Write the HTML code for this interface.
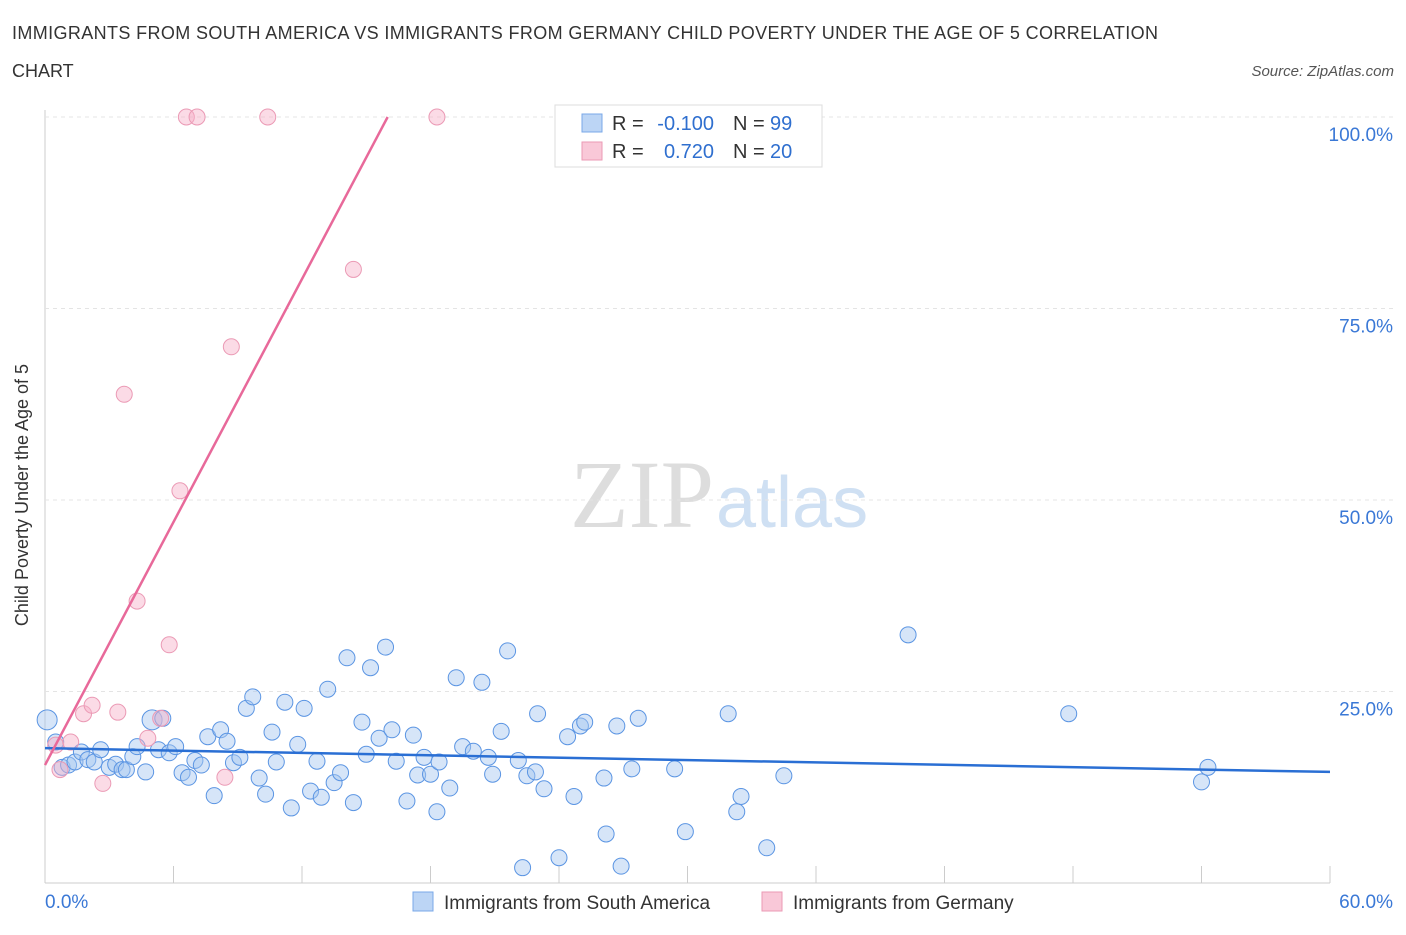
<!DOCTYPE html>
<html><head><meta charset="utf-8"><style>
body{margin:0;background:#fff;font-family:"Liberation Sans",sans-serif;}
</style></head><body>
<svg id="c" width="1406" height="930" xmlns="http://www.w3.org/2000/svg">
<text x="12" y="39" font-size="18" fill="#333" textLength="1146">IMMIGRANTS FROM SOUTH AMERICA VS IMMIGRANTS FROM GERMANY CHILD POVERTY UNDER THE AGE OF 5 CORRELATION</text>
<text x="12" y="77" font-size="18" fill="#333">CHART</text>
<text x="1394" y="76" font-size="15" fill="#555" font-style="italic" text-anchor="end">Source: ZipAtlas.com</text>
<text x="714" y="527" font-size="96" fill="#ddd" text-anchor="end" font-family="Liberation Serif,serif">ZIP</text>
<text x="716" y="527" font-size="72" fill="#cfe0f3">atlas</text>
<text x="28" y="495" font-size="18" fill="#333" text-anchor="middle" transform="rotate(-90 28 495)">Child Poverty Under the Age of 5</text>
<g id="grid"></g><g id="marks"></g>
<g>
<rect x="555" y="105" width="267" height="62" fill="#fff" stroke="#ddd"/>
<rect x="582" y="114" width="20" height="18" fill="#bcd5f5" stroke="#7aa8e8"/>
<text x="612" y="130" font-size="20" fill="#333">R =</text>
<text x="714" y="130" font-size="20" fill="#2f6fcf" text-anchor="end">-0.100</text>
<text x="733" y="130" font-size="20" fill="#333">N =</text>
<text x="770" y="130" font-size="20" fill="#2f6fcf">99</text>
<rect x="582" y="142" width="20" height="18" fill="#f9c8d8" stroke="#eb9ab5"/>
<text x="612" y="158" font-size="20" fill="#333">R =</text>
<text x="714" y="158" font-size="20" fill="#2f6fcf" text-anchor="end">0.720</text>
<text x="733" y="158" font-size="20" fill="#333">N =</text>
<text x="770" y="158" font-size="20" fill="#2f6fcf">20</text>
</g>
<g>
<rect x="413" y="892" width="20" height="19" fill="#bcd5f5" stroke="#7aa8e8"/>
<text x="444" y="909" font-size="19" fill="#333">Immigrants from South America</text>
<rect x="762" y="892" width="20" height="19" fill="#f9c8d8" stroke="#eb9ab5"/>
<text x="793" y="909" font-size="19" fill="#333">Immigrants from Germany</text>
</g>
</svg>
<script>
const xTicks=[0,6,12,18,24,30,36,42,48,54,60];
const yTicks=[25,50,75,100];
const blueX=[0.1,0.5,0.8,1.1,1.4,1.7,2.0,2.3,2.6,3.0,3.3,3.6,3.8,4.1,4.3,4.7,5.0,5.3,5.5,5.8,6.1,6.4,6.7,7.0,7.3,7.6,7.9,8.2,8.5,8.8,9.1,9.4,9.7,10.0,10.3,10.6,10.8,11.2,11.5,11.8,12.1,12.4,12.7,12.9,13.2,13.5,13.8,14.1,14.4,14.8,15.0,15.2,15.6,15.9,16.2,16.4,16.9,17.2,17.4,17.7,18.0,18.3,18.4,18.9,19.2,19.5,20.0,20.4,20.7,20.9,21.3,21.6,22.1,22.5,23.0,23.3,22.9,22.3,24.0,24.4,24.7,25.0,25.2,26.1,26.2,26.7,26.9,27.4,27.7,29.4,29.9,31.9,32.3,32.5,33.7,34.5,40.3,47.8,54.0,54.3];
const blueY=[21.3,18.4,15.1,15.4,15.8,17.1,16.1,15.8,17.4,15.1,15.5,14.8,14.8,16.5,17.8,14.5,21.3,17.4,21.5,17.0,17.8,14.4,13.8,16.0,15.4,19.1,11.4,20.0,18.5,15.7,16.4,22.8,24.3,13.7,11.6,19.7,15.8,23.6,9.8,18.1,22.8,12.0,15.9,11.2,25.3,13.1,14.4,29.4,10.5,21.0,16.8,28.1,18.9,30.8,20.0,15.9,10.7,19.3,14.1,16.4,14.2,9.3,15.8,12.4,26.8,17.8,17.2,26.2,16.4,14.2,19.8,30.3,16.0,14.0,22.1,12.3,14.5,2.0,3.3,19.1,11.3,20.5,21.0,13.7,6.4,20.5,2.2,14.9,21.5,14.9,6.7,22.1,9.3,11.3,4.6,14.0,32.4,22.1,13.2,15.1];
const pinkX=[0.5,0.7,1.2,1.8,2.2,2.7,3.4,3.7,4.3,4.8,5.4,5.8,6.3,6.6,7.1,8.4,8.7,10.4,14.4,18.3];
const pinkY=[18.0,14.8,18.4,22.1,23.2,13.0,22.3,63.8,36.8,18.9,21.5,31.1,51.2,100,100,13.8,70.0,100,80.1,100];
const blueTrend=[17.6,14.5];
const pinkTrend=[15.4,100,16.0];
const NS='http://www.w3.org/2000/svg';
const X=v=>45+v*(1330-45)/60, Y=v=>883-v*(883-117)/100;
function mk(t,a,p){const e=document.createElementNS(NS,t);for(const k in a)e.setAttribute(k,a[k]);p.appendChild(e);return e;}
const g=document.getElementById('grid'),m=document.getElementById('marks');
mk('line',{x1:45,y1:110,x2:45,y2:883,stroke:'#ccc'},g);
mk('line',{x1:45,y1:883,x2:1330,y2:883,stroke:'#ccc'},g);
yTicks.forEach(t=>{const l=mk('line',{x1:45,y1:Y(t),x2:1394,y2:Y(t),stroke:'#e4e4e4','stroke-dasharray':'4,4'},g);


const tx=mk('text',{x:1393,y:Y(t)+24,'font-size':19,fill:'#3a78d6','text-anchor':'end'},g);tx.textContent=t.toFixed(1)+'%';

});
xTicks.forEach(t=>{const l=mk('line',{x1:X(t),y1:866,x2:X(t),y2:883,stroke:'#ccc'},g);

});
[[0,'start',45],[60,'end',1393]].forEach(([t,a,x])=>{const tx=mk('text',{x:x,y:908,'font-size':19,fill:'#3a78d6','text-anchor':a},g);tx.textContent=t.toFixed(1)+'%';

});
blueX.forEach((v,i)=>{const c=mk('circle',{cx:X(v),cy:Y(blueY[i]),r:i==0||i==16?10:8,fill:'rgba(164,197,240,0.45)',stroke:'#5b95e3','stroke-width':1},m);

});
pinkX.forEach((v,i)=>{const c=mk('circle',{cx:X(v),cy:Y(pinkY[i]),r:8,fill:'rgba(246,176,200,0.45)',stroke:'#eb9ab5','stroke-width':1},m);

});
const bl=mk('line',{x1:X(0),y1:Y(blueTrend[0]),x2:X(60),y2:Y(blueTrend[1]),stroke:'#2a6fd4','stroke-width':2.5},m);


const pl=mk('line',{x1:X(0),y1:Y(pinkTrend[0]),x2:X(pinkTrend[2]),y2:Y(pinkTrend[1]),stroke:'#e8699a','stroke-width':2.5},m);


</script>
</body></html>
